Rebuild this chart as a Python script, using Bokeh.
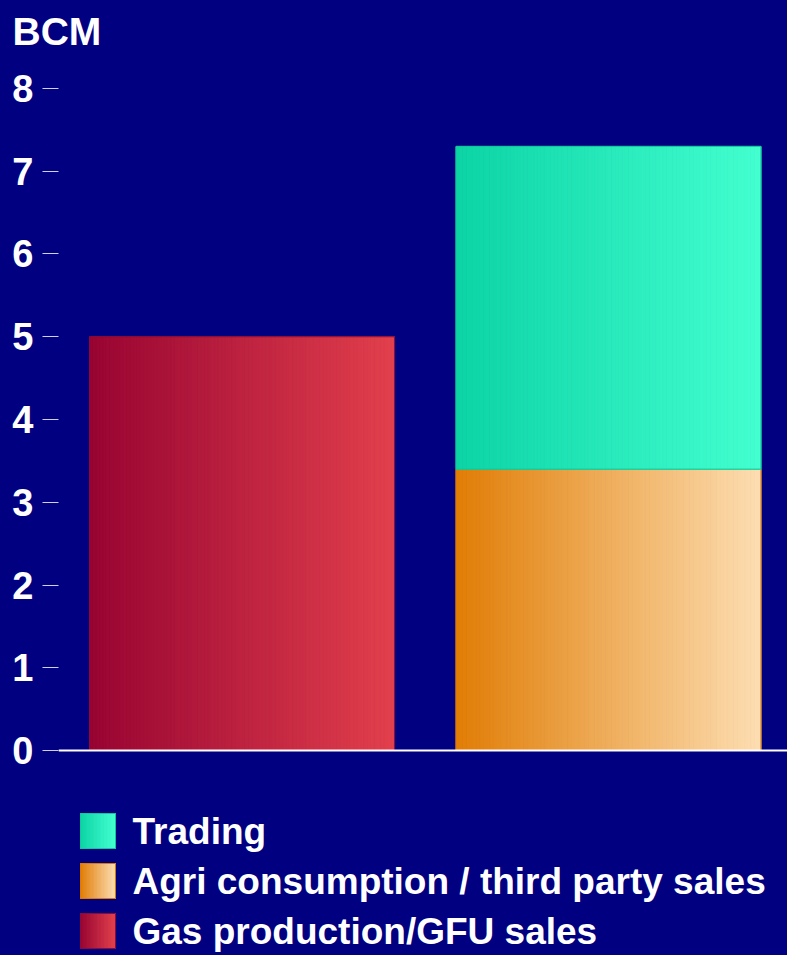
import re
import numpy as np
from bokeh.plotting import figure
from bokeh.models import Range1d, FixedTicker, Span, Title
from bokeh.core.properties import value
from bokeh.embed import file_html
from bokeh.resources import INLINE

# ---------------- data ----------------
bar_positions = [0, 1]
gas_production = [5.0, 0.0]
agri_consumption = [0.0, 3.4]
trading = [0.0, 3.9]
y_ticks = [0, 1, 2, 3, 4, 5, 6, 7, 8]
unit_label = "BCM"
legend_names = ["Trading", "Agri  consumption / third party sales", "Gas production/GFU sales"]

# ---------------- style ----------------
BG = "#000080"
FONT = "Liberation Sans"
BAR_W = 0.832
grad = {
    "gas": ((152, 4, 50), (226, 64, 76), "#8a0a3a"),
    "agri": ((225, 125, 5), (253, 222, 178), "#e07800"),
    "trading": ((12, 212, 165), (68, 255, 208), "#10c898"),
}


def hexcol(rgb):
    return "#%02x%02x%02x" % tuple(int(round(c)) for c in rgb)


def gradient_box(fig, left, right, bottom, top, c0, c1, n=90, **kw):
    edges = np.linspace(left, right, n + 1)
    t = (np.arange(n) + 0.5) / n
    cols = [hexcol(np.array(c0) + (np.array(c1) - np.array(c0)) * ti) for ti in t]
    fig.quad(left=edges[:-1], right=edges[1:], bottom=[bottom] * n, top=[top] * n,
             fill_color=cols, line_color=cols, line_width=1, **kw)


p = figure(width=787, height=955, output_backend="svg", toolbar_location=None,
           x_range=Range1d(-0.5007, 1.4884), y_range=Range1d(-2.477, 8.338),
           min_border_left=58, min_border_right=0, min_border_top=60, min_border_bottom=0,
           background_fill_color=BG, border_fill_color=BG, outline_line_color=None,
           x_axis_location=None)
p.grid.visible = False
# pixel-like helper ranges for the legend block below the bars
p.extra_x_ranges = {"px": Range1d(58, 787)}
p.extra_y_ranges = {"px": Range1d(955, 60)}

bottoms = np.zeros(len(bar_positions))
for key, vals in (("gas", gas_production), ("agri", agri_consumption), ("trading", trading)):
    c0, c1, edge = grad[key]
    for x, b, v in zip(bar_positions, bottoms, vals):
        if v > 0:
            gradient_box(p, x - BAR_W / 2, x + BAR_W / 2, b, b + v, c0, c1)
            p.quad(left=[x - BAR_W / 2], right=[x + BAR_W / 2], bottom=[b], top=[b + v],
                   fill_color=None, line_color=edge, line_width=1)
    bottoms = bottoms + np.array(vals)

p.add_layout(Span(location=0, dimension="width", line_color="white", line_width=2))

ax = p.yaxis[0]
ax.ticker = FixedTicker(ticks=y_ticks)
ax.axis_line_color = None
ax.major_tick_in = 0
ax.major_tick_out = 16
ax.major_tick_line_color = "#d0d0ee"
ax.minor_tick_line_color = None
ax.major_label_standoff = 9
ax.major_label_text_font = FONT
ax.major_label_text_font_style = "bold"
ax.major_label_text_font_size = "38px"
ax.major_label_text_color = "white"

p.add_layout(Title(text=unit_label, align="left", offset=-46, standoff=12,
                   vertical_align="top",
                   text_font=FONT, text_font_style="bold", text_font_size="39px",
                   text_color="white"), "above")

# ---------------- legend ----------------
leg_keys = ["trading", "agri", "gas"]
row_top = [813, 863, 913]
for key, name, top in zip(leg_keys, legend_names, row_top):
    c0, c1, edge = grad[key]
    gradient_box(p, 80, 115, top, top + 35, c0, c1, n=20, x_range_name="px", y_range_name="px")
    p.quad(left=[80], right=[115], bottom=[top + 35], top=[top],
           fill_color=None, line_color=edge, line_width=1, x_range_name="px", y_range_name="px")
p.text(x=[132] * 3, y=[t + 18 for t in row_top], text=legend_names,
       text_font=value(FONT), text_font_style="bold", text_font_size="37px",
       text_color="white", text_align="left", text_baseline="middle",
       x_range_name="px", y_range_name="px")

html = file_html(p, INLINE)
style = "<style>html,body{margin:0;padding:0;background:%s;}</style>" % BG
html = re.sub(r"</head>", style + "</head>", html, count=1, flags=re.I)
open("out.html", "w").write(html)
